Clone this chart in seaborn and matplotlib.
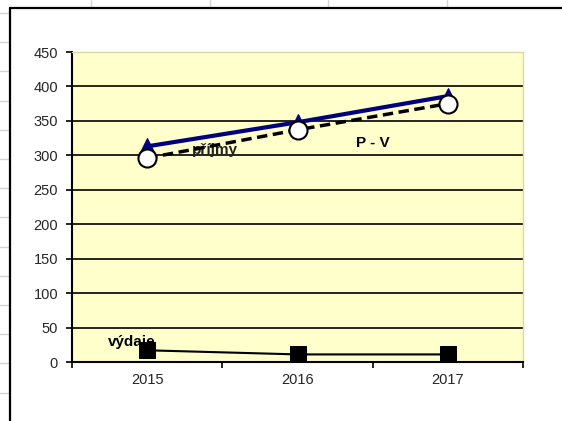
import numpy as np
import pandas as pd
import matplotlib
matplotlib.use("Agg")
import matplotlib.pyplot as plt
from matplotlib.lines import Line2D
import seaborn as sns

years = ["2015", "2016", "2017"]
prijmy = [313, 348, 386]
vydaje = [17, 11, 11]
p_minus_v = [296, 337, 375]

sns.set_style("white")
plt.rcParams["font.family"] = ["Liberation Sans", "DejaVu Sans"]

fig = plt.figure(figsize=(5.62, 4.21), dpi=100)
fig.patch.set_facecolor("white")

# spreadsheet cells behind the chart object
W, H = 562, 421
for gx in [91, 210, 328, 447]:
    fig.add_artist(Line2D([gx / W, gx / W], [1, 1 - 8 / H], color="#d4d4d4", lw=1))
for gy in np.arange(13, 421, 29.2):
    fig.add_artist(Line2D([0, 9 / W], [1 - gy / H, 1 - gy / H], color="#d4d4d4", lw=1))
# chart frame
fig.add_artist(Line2D([10 / W, 10 / W], [0, 1 - 8 / H], color="black", lw=1.6))
fig.add_artist(Line2D([10 / W, 1], [1 - 8 / H, 1 - 8 / H], color="black", lw=1.6))

ax = fig.add_axes([72 / W, 59 / H, 451 / W, 310 / H])
ax.set_facecolor("#ffffcc")

x = np.arange(len(years))
df = pd.DataFrame({"x": x, "prijmy": prijmy, "vydaje": vydaje, "pv": p_minus_v})

sns.lineplot(data=df, x="x", y="prijmy", ax=ax, color="#000080", lw=3,
             marker="^", markersize=12, markeredgecolor="#000080", zorder=4)
sns.lineplot(data=df, x="x", y="pv", ax=ax, color="black", lw=2.5,
             linestyle=(0, (3, 1.6)), marker="o", markersize=13,
             markerfacecolor="white", markeredgecolor="black",
             markeredgewidth=1.5, zorder=5)
sns.lineplot(data=df, x="x", y="vydaje", ax=ax, color="black", lw=1.5,
             marker="s", markersize=11, markeredgecolor="black", zorder=5)

ax.set_xlim(-0.5, 2.5)
ax.set_ylim(0, 450)
ax.set_yticks(range(0, 451, 50))
ax.set_xticks(x)
ax.set_xticklabels(years)
ax.set_xticks([-0.5, 0.5, 1.5, 2.5], minor=True)
ax.tick_params(axis="x", which="major", length=0, pad=8, labelsize=10.5)
ax.tick_params(axis="x", which="minor", length=4, width=1.2, direction="out",
               color="black", bottom=True)
ax.tick_params(axis="y", length=4, width=1.2, direction="out", color="black",
               left=True, labelsize=10.5, pad=6)
ax.set_xlabel("")
ax.set_ylabel("")

for yv in range(50, 450, 50):
    ax.axhline(yv, color="black", lw=1.2, zorder=1)

for side in ["top", "right"]:
    ax.spines[side].set_color("#d8d8a8")
    ax.spines[side].set_linewidth(1)
for side in ["left", "bottom"]:
    ax.spines[side].set_color("black")
    ax.spines[side].set_linewidth(1.5)

ax.text(0.45, 308, "příjmy", ha="center", va="center", fontsize=11,
        fontweight="bold", color="#222222", zorder=4)
ax.text(1.5, 318, "P - V", ha="center", va="center", fontsize=11,
        fontweight="bold", color="black", zorder=6)
ax.text(-0.1, 29, "výdaje", ha="center", va="center", fontsize=11,
        fontweight="bold", color="black", zorder=4)

fig.savefig("out.png", dpi=100)
